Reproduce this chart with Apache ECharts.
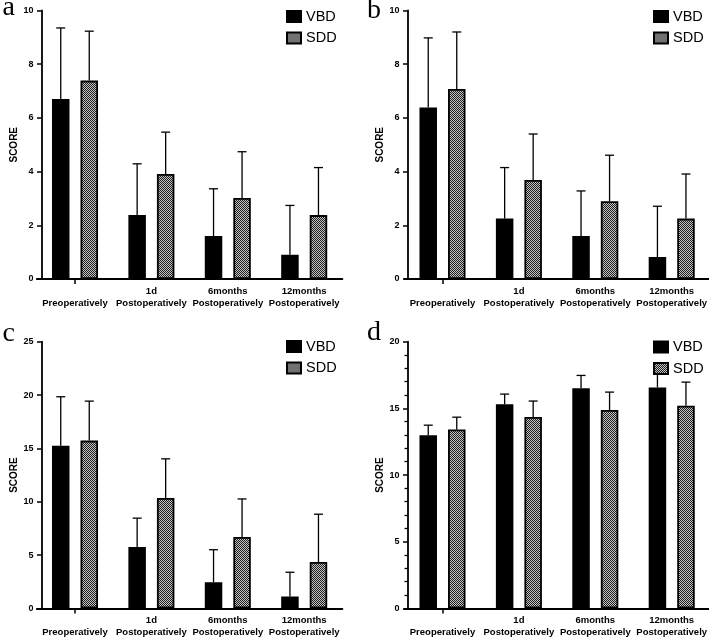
<!DOCTYPE html>
<html>
<head>
<meta charset="utf-8">
<script src="https://cdn.jsdelivr.net/npm/echarts@6/dist/echarts.min.js"></script>
<style>
html,body{margin:0;padding:0;background:#fff;}
#chart{width:709px;height:640px;}
</style>
</head>
<body>
<div id="chart"></div>
<script>
// ---- data ----
const categories = ['Preoperatively', '1d\nPostoperatively', '6months\nPostoperatively', '12months\nPostoperatively'];
const seriesNames = ['VBD', 'SDD'];
const panelLetters = ['a', 'b', 'c', 'd'];

// panel a
const aVBD = [6.70, 2.38, 1.60, 0.90];
const aVBDsd = [2.65, 1.91, 1.76, 1.84];
const aSDD = [7.39, 3.91, 3.02, 2.38];
const aSDDsd = [1.84, 1.56, 1.72, 1.77];
// panel b
const bVBD = [6.39, 2.25, 1.60, 0.82];
const bVBDsd = [2.59, 1.90, 1.68, 1.89];
const bSDD = [7.08, 3.69, 2.90, 2.25];
const bSDDsd = [2.12, 1.71, 1.71, 1.66];
// panel c
const cVBD = [15.24, 5.75, 2.46, 1.12];
const cVBDsd = [4.60, 2.71, 3.04, 2.27];
const cSDD = [15.73, 10.35, 6.69, 4.35];
const cSDDsd = [3.70, 3.67, 3.57, 4.48];
// panel d
const dVBD = [12.99, 15.30, 16.50, 16.57];
const dVBDsd = [0.75, 0.77, 0.97, 1.00];
const dSDD = [13.42, 14.36, 14.88, 15.20];
const dSDDsd = [0.92, 1.19, 1.34, 1.77];

// y axis scales (min, max, interval)
const yMaxes = [10, 10, 25, 20];
const yIntervals = [2, 2, 5, 5];
const yMinorTicks = [false, false, false, true];
const yTitle = 'SCORE';

// ---- styling / layout ----
const panels = [
  {vbd: aVBD, vbdSd: aVBDsd, sdd: aSDD, sddSd: aSDDsd},
  {vbd: bVBD, vbdSd: bVBDsd, sdd: bSDD, sddSd: bSDDsd},
  {vbd: cVBD, vbdSd: cVBDsd, sdd: cSDD, sddSd: cSDDsd},
  {vbd: dVBD, vbdSd: dVBDsd, sdd: dSDD, sddSd: dSDDsd}
];
const gridPos = [
  {left: 36.8, top: 10.5, width: 305.6, height: 268.5, yOff: -4.7},
  {left: 404.3, top: 10.5, width: 305.6, height: 268.5, yOff: -3.2},
  {left: 36.8, top: 341.7, width: 305.6, height: 266.7, yOff: -4.7},
  {left: 404.3, top: 341.7, width: 305.6, height: 266.7, yOff: -3.2}
];
const legendPos = [
  {left: 286, top: 9},
  {left: 653, top: 9},
  {left: 286, top: 339},
  {left: 653, top: 339.5}
];
const letterPos = [[2.5, 22], [367, 24.5], [2.5, 347.5], [367, 347]];

const FONT = '"Liberation Sans", Arial, Helvetica, sans-serif';
const BAR_W = 17.5;
const GAP_PCT = 0.63;
const OFF = (BAR_W + BAR_W * GAP_PCT) / 2;

function makePattern() {
  const c = document.createElement('canvas');
  c.width = 2; c.height = 2;
  const ctx = c.getContext('2d');
  ctx.fillStyle = '#c4c4c4';
  ctx.fillRect(0, 0, 2, 2);
  ctx.fillStyle = '#1e1e1e';
  ctx.fillRect(0, 0, 1, 1);
  ctx.fillRect(1, 1, 1, 1);
  return c;
}
const patternFill = {image: makePattern(), repeat: 'repeat'};

function errorRender(offset) {
  return function (params, api) {
    const p0 = api.coord([api.value(0), api.value(1)]);
    const p1 = api.coord([api.value(0), api.value(2)]);
    const x = p0[0] + offset;
    const st = {stroke: '#000', lineWidth: 1.3};
    return {
      type: 'group',
      children: [
        {type: 'line', shape: {x1: x, y1: p0[1], x2: x, y2: p1[1]}, style: st},
        {type: 'line', shape: {x1: x - 4.5, y1: p1[1], x2: x + 4.5, y2: p1[1]}, style: st}
      ]
    };
  };
}

const grids = [], xAxes = [], yAxes = [], series = [], legends = [], graphics = [];

panels.forEach((p, i) => {
  const g = gridPos[i];
  grids.push({left: g.left, top: g.top, width: g.width, height: g.height, containLabel: false, outerBoundsMode: 'none'});
  xAxes.push({
    type: 'category', gridIndex: i, data: categories, boundaryGap: true,
    axisLine: {show: true, lineStyle: {color: '#000', width: 1.8}},
    axisTick: {show: true, alignWithLabel: true, length: 5, interval: (idx) => idx === 0, lineStyle: {color: '#000', width: 1.5}},
    axisLabel: {
      interval: 0, margin: 6, color: '#000', fontFamily: FONT, fontWeight: 'bold', fontSize: 9.5, lineHeight: 12,
      formatter: (v) => (v.indexOf('\n') < 0 ? '\n' + v : v)
    },
    splitLine: {show: false}
  });
  yAxes.push({
    type: 'value', gridIndex: i, min: 0, max: yMaxes[i], interval: yIntervals[i], offset: g.yOff,
    name: yTitle, nameLocation: 'middle', nameGap: 19,
    nameTextStyle: {color: '#000', fontFamily: FONT, fontWeight: 'bold', fontSize: 10},
    axisLine: {show: true, lineStyle: {color: '#000', width: 1.8}},
    axisTick: {show: true, length: 4.5, lineStyle: {color: '#000', width: 1.5}},
    minorTick: {show: yMinorTicks[i], splitNumber: 5, length: 3, lineStyle: {color: '#000', width: 1.3}},
    axisLabel: {margin: 8, color: '#000', fontFamily: FONT, fontWeight: 'bold', fontSize: 9},
    splitLine: {show: false},
    minorSplitLine: {show: false}
  });
  series.push({
    name: 'VBD', type: 'bar', xAxisIndex: i, yAxisIndex: i, data: p.vbd,
    barWidth: BAR_W, barGap: (GAP_PCT * 100) + '%',
    itemStyle: {color: '#000', borderColor: '#000', borderWidth: 1.8},
    emphasis: {disabled: true}, z: 2
  });
  series.push({
    name: 'SDD', type: 'bar', xAxisIndex: i, yAxisIndex: i, data: p.sdd,
    barWidth: BAR_W, barGap: (GAP_PCT * 100) + '%',
    itemStyle: {color: patternFill, borderColor: '#000', borderWidth: 1.8},
    emphasis: {disabled: true}, z: 2
  });
  series.push({
    name: 'VBD err', type: 'custom', xAxisIndex: i, yAxisIndex: i,
    data: p.vbd.map((v, k) => [k, v, v + p.vbdSd[k]]),
    encode: {x: 0, y: 2}, renderItem: errorRender(-OFF), z: 3, silent: true
  });
  series.push({
    name: 'SDD err', type: 'custom', xAxisIndex: i, yAxisIndex: i,
    data: p.sdd.map((v, k) => [k, v, v + p.sddSd[k]]),
    encode: {x: 0, y: 2}, renderItem: errorRender(OFF), z: 3, silent: true
  });
  legends.push({
    data: seriesNames, orient: 'vertical', left: legendPos[i].left, top: legendPos[i].top,
    padding: 0, itemWidth: 14, itemHeight: 11, itemGap: 6.5, icon: 'rect', selectedMode: false,
    textStyle: {color: '#000', fontFamily: FONT, fontSize: 14.5}
  });
  graphics.push({
    type: 'text', x: letterPos[i][0], y: letterPos[i][1],
    style: {text: panelLetters[i], fill: '#000', font: '28px "Liberation Serif", "Times New Roman", serif', verticalAlign: 'bottom'}
  });
});

const chart = echarts.init(document.getElementById('chart'), null, {renderer: 'canvas'});
chart.setOption({
  animation: false,
  backgroundColor: '#fff',
  grid: grids,
  xAxis: xAxes,
  yAxis: yAxes,
  legend: legends,
  series: series,
  graphic: graphics,
  tooltip: {show: false}
});
</script>
</body>
</html>
